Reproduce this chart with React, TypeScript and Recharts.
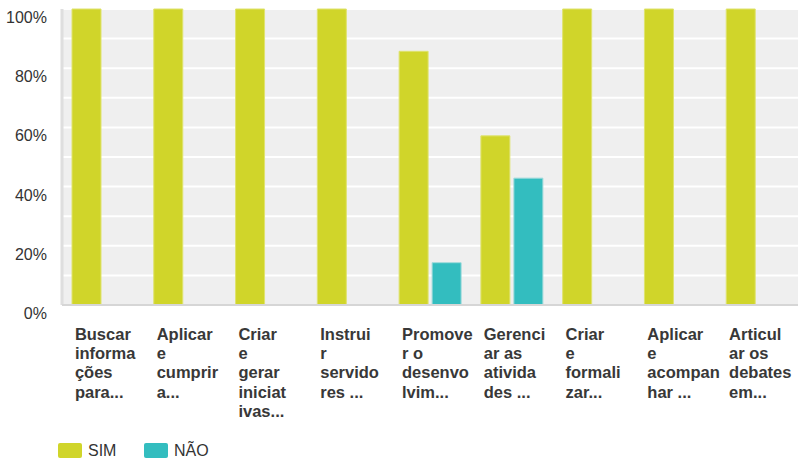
import { BarChart, Bar, XAxis, YAxis, CartesianGrid } from 'recharts';

const categories = [
  'Buscar informações para...',
  'Aplicar e cumprir a...',
  'Criar e gerar iniciativas...',
  'Instruir servidores ...',
  'Promover o desenvolvim...',
  'Gerenciar as atividades ...',
  'Criar e formalizar...',
  'Aplicar e acompanhar ...',
  'Articular os debates em...',
];

// wrapped the way the source tool breaks them (mid-word)
const categoryLines = [
  ['Buscar', 'informa', 'ções', 'para...'],
  ['Aplicar', 'e', 'cumprir', 'a...'],
  ['Criar', 'e', 'gerar', 'iniciat', 'ivas...'],
  ['Instrui', 'r', 'servido', 'res ...'],
  ['Promove', 'r o', 'desenvo', 'lvim...'],
  ['Gerenci', 'ar as', 'ativida', 'des ...'],
  ['Criar', 'e', 'formali', 'zar...'],
  ['Aplicar', 'e', 'acompan', 'har ...'],
  ['Articul', 'ar os', 'debates', 'em...'],
];

const sim = [100, 100, 100, 100, 85.71, 57.14, 100, 100, 100];
const nao = [0, 0, 0, 0, 14.29, 42.86, 0, 0, 0];

const yTicks = [0, 10, 20, 30, 40, 50, 60, 70, 80, 90, 100];

const SIM_COLOR = '#d0d52a';
const NAO_COLOR = '#33bdbf';
const FONT = '"Liberation Sans", Arial, sans-serif';

const data = categories.map((name, i) => ({ name, i, SIM: sim[i], NAO: nao[i] }));

function CategoryTick({ x, y, payload }: any) {
  const lines = categoryLines[payload.index] || [];
  return (
    <text
      x={x - 28}
      y={y + 33}
      fill="#383838"
      fontFamily={FONT}
      fontWeight="bold"
      fontSize={16.5}
      textAnchor="start"
    >
      {lines.map((l, k) => (
        <tspan key={k} x={x - 28} dy={k === 0 ? 0 : 19.2}>
          {l}
        </tspan>
      ))}
    </text>
  );
}

function PercentTick({ y, payload }: any) {
  if (payload.value % 20 !== 0) return null;
  return (
    <text x={47} y={y + 14} fill="#333" fontFamily={FONT} fontSize={16} textAnchor="end">
      {payload.value}%
    </text>
  );
}

export default function App() {
  return (
    <div style={{ position: 'absolute', left: 0, top: 0, width: 798, height: 459, overflow: 'hidden', background: '#fff' }}>
      <BarChart
        width={798}
        height={459}
        data={data}
        margin={{ top: 9, right: 0, bottom: 0, left: 0 }}
        barGap={4}
        barSize={29}
      >
        <CartesianGrid vertical={false} fill="#efefef" stroke="#ffffff" strokeWidth={2} />
        <YAxis
          width={62}
          domain={[0, 100]}
          ticks={yTicks}
          interval={0}
          tickLine={false}
          axisLine={{ stroke: '#dedede', strokeWidth: 3 }}
          tick={<PercentTick />}
        />
        <XAxis
          dataKey="name"
          height={154}
          interval={0}
          tickLine={false}
          tickSize={0}
          axisLine={{ stroke: '#d6d6d6', strokeWidth: 2 }}
          tick={<CategoryTick />}
        />
        <Bar dataKey="SIM" fill={SIM_COLOR} stroke="#dfe36f" strokeWidth={1} isAnimationActive={false} />
        <Bar dataKey="NAO" name="NÃO" fill={NAO_COLOR} stroke="#9fdadb" strokeWidth={1} isAnimationActive={false} />
      </BarChart>
      <div
        style={{
          position: 'absolute',
          left: 58,
          top: 443,
          display: 'flex',
          alignItems: 'center',
          fontFamily: FONT,
          fontSize: 16,
          color: '#333',
          lineHeight: '15px',
        }}
      >
        <span style={{ width: 24, height: 15, background: SIM_COLOR, borderRadius: 2, display: 'inline-block' }} />
        <span style={{ marginLeft: 6, width: 56 }}>SIM</span>
        <span style={{ width: 24, height: 15, background: NAO_COLOR, borderRadius: 2, display: 'inline-block' }} />
        <span style={{ marginLeft: 6 }}>NÃO</span>
      </div>
    </div>
  );
}
